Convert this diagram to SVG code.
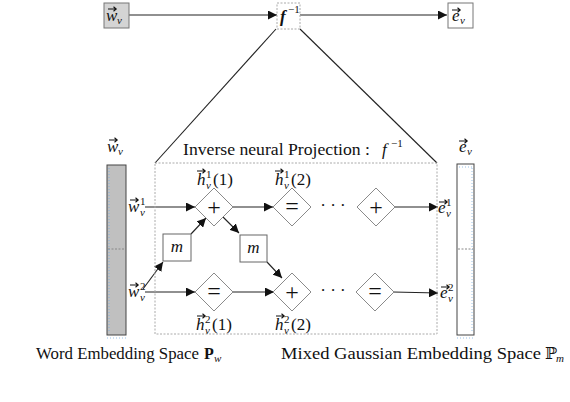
<svg xmlns="http://www.w3.org/2000/svg" width="570" height="402" viewBox="0 0 570 402">
<style>
text{font-family:"Liberation Serif","DejaVu Serif",serif;fill:#111}
.m{font-style:italic}
.lbl{font-size:17px}
.s{font-size:11px}
.d{fill:#fff;stroke:#8a8a8a;stroke-width:1}
.box{fill:#fff;stroke:#666;stroke-width:1}
.ln{stroke:#222;stroke-width:1.1;fill:none}
.dot{fill:none;stroke:#aaa;stroke-width:1;stroke-dasharray:2 1.5}
.op{font-size:24px;text-anchor:middle}
.va{stroke:#111;stroke-width:1.1;fill:none}
</style>
<defs>
<marker id="ah" viewBox="0 0 10 10" refX="10" refY="5" markerWidth="9" markerHeight="9" markerUnits="userSpaceOnUse" orient="auto">
<path d="M0,0 L10,5 L0,10 z" fill="#111"/>
</marker>
<path id="va" class="va" d="M0,0 H8 M5.5,-2.2 L8.2,0 L5.5,2.2"/>
</defs>

<g id="connectors">
<line class="ln" x1="129" y1="15" x2="277" y2="15" marker-end="url(#ah)"/>
<line class="ln" x1="300" y1="15" x2="447" y2="15" marker-end="url(#ah)"/>
<line class="ln" x1="276" y1="29" x2="155" y2="163"/>
<line class="ln" x1="300" y1="29" x2="437" y2="163"/>
<line class="ln" x1="145" y1="207" x2="195" y2="207" marker-end="url(#ah)"/>
<line class="ln" x1="233" y1="207" x2="273" y2="207" marker-end="url(#ah)"/>
<line class="ln" x1="395" y1="207" x2="438" y2="207" marker-end="url(#ah)"/>
<line class="ln" x1="145" y1="292" x2="195" y2="292" marker-end="url(#ah)"/>
<line class="ln" x1="233" y1="292" x2="274" y2="292" marker-end="url(#ah)"/>
<line class="ln" x1="393" y1="292" x2="438" y2="293" marker-end="url(#ah)"/>
<line class="ln" x1="143" y1="289" x2="163" y2="262" marker-end="url(#ah)"/>
<line class="ln" x1="191" y1="234" x2="206" y2="218" marker-end="url(#ah)"/>
<line class="ln" x1="223" y1="217" x2="239" y2="233" marker-end="url(#ah)"/>
<line class="ln" x1="267" y1="262" x2="282" y2="278" marker-end="url(#ah)"/>
</g>

<g id="top-wv">
<rect x="104" y="3" width="25" height="25" fill="#d4d4d4" stroke="#777"/>
<use href="#va" x="108" y="9"/>
<text y="21" class="lbl"><tspan x="106" class="m">w</tspan><tspan x="117" dy="3" class="m s">v</tspan></text>
</g>
<g id="top-f">
<rect x="277" y="3" width="23" height="26" class="dot"/>
<text y="22" class="lbl"><tspan x="280" class="m" font-weight="bold">f</tspan><tspan x="288" dy="-9" class="s">−1</tspan></text>
</g>
<g id="top-ev">
<rect x="448" y="3" width="25" height="25" fill="#fff" stroke="#777"/>
<use href="#va" x="452" y="10"/>
<text y="21" class="lbl"><tspan x="452" class="m">e</tspan><tspan x="460" dy="3" class="m s">v</tspan></text>
</g>

<g id="projection">
<rect x="155" y="163" width="282" height="171" class="dot"/>
<text x="183" y="155" font-size="17" textLength="187" lengthAdjust="spacingAndGlyphs">Inverse neural Projection :</text>
<text y="155" class="lbl"><tspan x="382" class="m">f</tspan><tspan x="391" dy="-8" class="s">−1</tspan></text>
</g>

<g id="word-bar">
<rect x="107" y="165" width="19" height="170" fill="#c0c0c0" stroke="#444"/>
<line x1="108" y1="249" x2="125" y2="249" stroke="#888" stroke-dasharray="2 1.5"/>
<line x1="109" y1="168" x2="109" y2="333" stroke="#6fa8dc" stroke-width="0.7" stroke-dasharray="1 2"/>
<line x1="107" y1="338" x2="126" y2="338" stroke="#6fa8dc" stroke-width="0.7" stroke-dasharray="1 2"/>
<use href="#va" x="109" y="140"/>
<text y="152" class="lbl"><tspan x="107" class="m">w</tspan><tspan x="118" dy="3" class="m s">v</tspan></text>
</g>

<g id="mix-bar">
<rect x="457" y="164" width="17" height="171" fill="#fff" stroke="#444"/>
<line x1="458" y1="249" x2="473" y2="249" stroke="#888" stroke-dasharray="2 1.5"/>
<line x1="459" y1="167" x2="472" y2="167" stroke="#6fa8dc" stroke-width="0.7" stroke-dasharray="1 2"/>
<line x1="472" y1="168" x2="472" y2="333" stroke="#6fa8dc" stroke-width="0.7" stroke-dasharray="1 2"/>
<line x1="457" y1="338" x2="474" y2="338" stroke="#6fa8dc" stroke-width="0.7" stroke-dasharray="1 2"/>
<use href="#va" x="459" y="141"/>
<text y="152" class="lbl"><tspan x="459" class="m">e</tspan><tspan x="467" dy="3" class="m s">v</tspan></text>
</g>

<g id="w1-label">
<use href="#va" x="130" y="200"/>
<text y="212" class="lbl"><tspan x="128" class="m">w</tspan><tspan x="140" dy="-7" class="s">1</tspan><tspan x="140" dy="11" class="m s">v</tspan></text>
</g>
<g id="w2-label">
<use href="#va" x="130" y="285"/>
<text y="297" class="lbl"><tspan x="128" class="m">w</tspan><tspan x="140" dy="-7" class="s">2</tspan><tspan x="140" dy="11" class="m s">v</tspan></text>
</g>

<g id="n-plus-11">
<polygon class="d" points="214,188 233,207 214,226 195,207"/>
<text x="214" y="215" class="op">+</text>
<use href="#va" x="197" y="171"/>
<text y="185" class="lbl"><tspan x="197" class="m">h</tspan><tspan x="206" dy="-7" class="s">1</tspan><tspan x="206" dy="11" class="m s">v</tspan><tspan x="213" dy="-4">(1)</tspan></text>
</g>
<g id="n-eq-12">
<polygon class="d" points="292,188 311,207 292,226 273,207"/>
<text x="292" y="214" class="op">=</text>
<use href="#va" x="275" y="171"/>
<text y="185" class="lbl"><tspan x="275" class="m">h</tspan><tspan x="284" dy="-7" class="s">1</tspan><tspan x="284" dy="11" class="m s">v</tspan><tspan x="291" dy="-4">(2)</tspan></text>
</g>
<g id="dots1"><text x="333" y="211" font-size="17" text-anchor="middle">· · ·</text></g>
<g id="n-plus-1n">
<polygon class="d" points="376,188 395,207 376,226 357,207"/>
<text x="376" y="215" class="op">+</text>
</g>
<g id="e1-label">
<use href="#va" x="439" y="202"/>
<text y="213" class="lbl"><tspan x="438" class="m">e</tspan><tspan x="446" dy="-7" class="s">1</tspan><tspan x="446" dy="11" class="m s">v</tspan></text>
</g>

<g id="n-eq-21">
<polygon class="d" points="214,273 233,292 214,311 195,292"/>
<text x="214" y="299" class="op">=</text>
<use href="#va" x="197" y="316"/>
<text y="330" class="lbl"><tspan x="196" class="m">h</tspan><tspan x="205" dy="-7" class="s">2</tspan><tspan x="205" dy="11" class="m s">v</tspan><tspan x="212" dy="-4">(1)</tspan></text>
</g>
<g id="n-plus-22">
<polygon class="d" points="292,273 311,292 292,311 273,292"/>
<text x="292" y="300" class="op">+</text>
<use href="#va" x="276" y="316"/>
<text y="330" class="lbl"><tspan x="275" class="m">h</tspan><tspan x="284" dy="-7" class="s">2</tspan><tspan x="284" dy="11" class="m s">v</tspan><tspan x="291" dy="-4">(2)</tspan></text>
</g>
<g id="dots2"><text x="333" y="296" font-size="17" text-anchor="middle">· · ·</text></g>
<g id="n-eq-2n">
<polygon class="d" points="375,273 394,292 375,311 356,292"/>
<text x="375" y="299" class="op">=</text>
</g>
<g id="e2-label">
<use href="#va" x="441" y="287"/>
<text y="298" class="lbl"><tspan x="440" class="m">e</tspan><tspan x="448" dy="-7" class="s">2</tspan><tspan x="448" dy="11" class="m s">v</tspan></text>
</g>

<g id="m1">
<rect class="box" x="163" y="234" width="28" height="27"/>
<text x="177" y="252" font-size="17" class="m" text-anchor="middle">m</text>
</g>
<g id="m2">
<rect class="box" x="240" y="235" width="27" height="27"/>
<text x="253.5" y="253" font-size="17" class="m" text-anchor="middle">m</text>
</g>

<g id="captions">
<text x="36" y="359" font-size="16" textLength="163" lengthAdjust="spacingAndGlyphs">Word Embedding Space</text>
<text y="359" font-size="16"><tspan x="204" font-weight="bold">P</tspan><tspan x="214" dy="3" class="m s">w</tspan></text>
<text x="281" y="359" font-size="16" textLength="260" lengthAdjust="spacingAndGlyphs">Mixed Gaussian Embedding Space</text>
<text y="359" font-size="16"><tspan x="545">ℙ</tspan><tspan x="556" dy="3" class="m s">m</tspan></text>
</g>
</svg>
